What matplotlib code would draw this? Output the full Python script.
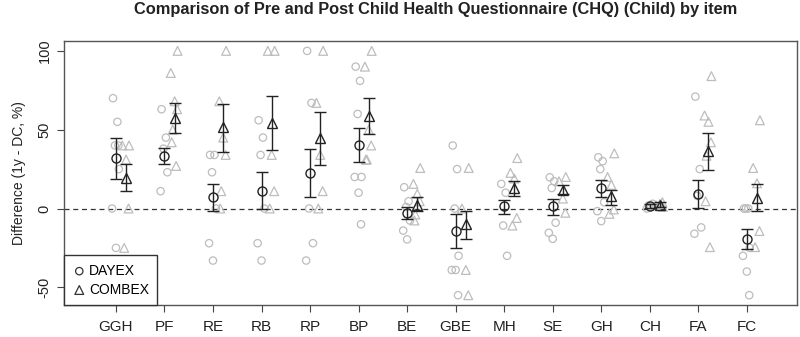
import matplotlib.pyplot as plt
import numpy as np

plt.rcParams["font.family"] = ["Liberation Sans", "DejaVu Sans"]

items = ["GGH", "PF", "RE", "RB", "RP", "BP", "BE", "GBE", "MH", "SE", "GH", "CH", "FA", "FC"]

# means and error bar limits
dayex_mean = [32, 33.5, 7.4, 11.4, 22.6, 40.3, -2.7, -14.1, 1.5, 1.5, 13.1, 1.5, 9.5, -19.2]
dayex_lo = [19, 28, -1.7, -0.6, 7, 29.3, -6.5, -25.3, -3.4, -3.8, 7.4, 0.3, 0.4, -25.9]
dayex_hi = [44.5, 38.6, 15.8, 23.2, 38, 51, 1, -3.4, 5.7, 6.1, 18.2, 2.8, 18.4, -12.7]

combex_mean = [19.4, 57.4, 51.5, 54.2, 44.7, 59, 2.5, -10.1, 12.9, 12, 7.8, 2.5, 36.3, 6.7]
combex_lo = [10.8, 47.9, 35.9, 37.3, 27.8, 47.5, -1.3, -19.2, 8.2, 9.1, 2.1, 1, 24.3, -1.7]
combex_hi = [28, 66.9, 66.2, 71.1, 61.4, 70, 7.2, -1.5, 17.3, 15, 12, 4, 47.9, 15.8]

# individual differences
dayex_points = [
    [70, 55, 40, 25, 0, -25, 40],
    [63, 45, 38, 23, 11],
    [34, 34, 23, 0, -22, -33],
    [56, 45, 34, 0, -22, -33],
    [100, 67, 0, -22, -33],
    [90, 81, 60, 20, 20, 10, -10],
    [13.5, 4.6, 1, -7.6, -14, -19.6],
    [40, 25, 0, -30, -39, -39, -55],
    [15.6, 10, -10.8, -30],
    [19.8, 17.3, 13, -9, -15.4, -19.2],
    [32.5, 30, 25, 4, -1.7, -8],
    [0, 1, 2, 3],
    [71, 25, 8, -12, -16],
    [0, 0, 0, -25, -30, -40, -55],
]
combex_points = [
    [40, 40, 31, 0, -25],
    [100, 86, 68, 63, 50, 42, 27],
    [100, 68, 45, 34, 11, 0],
    [100, 100, 34, 11, 0],
    [100, 67, 34, 11, 0],
    [100, 90, 50, 40, 31, 31],
    [25.7, 15.6, 9.3, 4.6, -3.8, -7.6],
    [25.7, 0, -39, -55],
    [32, 22.6, 19, -6, -10.8],
    [20, 17.3, 6.3, -2.7],
    [35, 20, 15, -0.6, -3.4],
    [1, 2, 3, 4],
    [84, 59, 55, 42, 33.5, 4.6, -24.5],
    [56, 25.7, 16, -14.3, -24.5],
]

jitter = [-0.06, 0.03, -0.02, 0.06, -0.08, 0.0, 0.05, -0.04]
shift = 0.21
x = np.arange(1, len(items) + 1)

fig = plt.figure(figsize=(8, 3.37), dpi=100)
ax = fig.add_axes([0.08, 0.095, 0.916, 0.783])

grey = "#bdbdbd"
for i, (dp, cp) in enumerate(zip(dayex_points, combex_points)):
    dx = [x[i] + jitter[k % len(jitter)] for k in range(len(dp))]
    cx = [x[i] + shift + jitter[(k + 3) % len(jitter)] for k in range(len(cp))]
    ax.scatter(dx, dp, s=28, marker="o", facecolors="none", edgecolors=grey, linewidths=0.9, zorder=2)
    ax.scatter(cx, cp, s=40, marker="^", facecolors="none", edgecolors=grey, linewidths=0.9, zorder=2)

ax.axhline(0, color="#333333", linestyle=(0, (4, 3)), linewidth=0.9, zorder=1)

dm = np.array(dayex_mean)
cm = np.array(combex_mean)
ax.errorbar(x, dm, yerr=[dm - np.array(dayex_lo), np.array(dayex_hi) - dm], fmt="o",
            mfc="none", mec="#222222", ms=6.5, mew=1, ecolor="#222222", elinewidth=1,
            capsize=4, capthick=1, zorder=3)
ax.errorbar(x + shift, cm, yerr=[cm - np.array(combex_lo), np.array(combex_hi) - cm], fmt="^",
            mfc="none", mec="#222222", ms=7.5, mew=1, ecolor="#222222", elinewidth=1,
            capsize=4, capthick=1, zorder=3)

ax.set_xlim(-0.07, 15.03)
ax.set_ylim(-61.2, 106.2)
ax.set_xticks(x)
ax.set_xticklabels(items, fontsize=11, color="#222222")
ax.set_yticks([-50, 0, 50, 100])
ax.set_yticklabels(["-50", "0", "50", "100"], rotation=90, va="center", fontsize=10.5, color="#222222")
ax.tick_params(axis="x", length=5, pad=6, color="#444444")
ax.tick_params(axis="y", length=5, pad=4, color="#444444")
for s in ax.spines.values():
    s.set_color("#555555")
    s.set_linewidth(1)

ax.set_ylabel("Difference (1y - DC, %)", fontsize=10, color="#222222", labelpad=8)
fig.text(0.545, 0.995, "Comparison of Pre and Post Child Health Questionnaire (CHQ) (Child) by item",
         ha="center", va="top", fontsize=11.8, fontweight="bold", color="#222222")

h1 = ax.scatter([], [], s=28, marker="o", facecolors="none", edgecolors="#333333", linewidths=0.9)
h2 = ax.scatter([], [], s=40, marker="^", facecolors="none", edgecolors="#333333", linewidths=0.9)
leg = ax.legend([h1, h2], ["DAYEX", "COMBEX"], loc="lower left", borderaxespad=0, fontsize=10,
                fancybox=False, framealpha=1, edgecolor="#333333", handletextpad=0.2,
                borderpad=0.6, labelspacing=0.35, handlelength=1.0)
leg.get_frame().set_linewidth(1)

fig.savefig("out.png", dpi=100)
